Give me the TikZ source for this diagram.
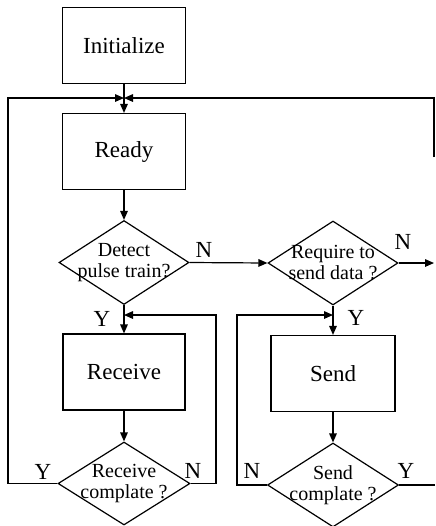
\documentclass[tikz,border=0pt]{standalone}
\usepackage{fontspec}
\setmainfont{Liberation Serif}
\usetikzlibrary{shapes.geometric, arrows.meta}

\begin{document}
\begin{tikzpicture}[x = 0.5pt, y = -0.5pt, line width = 0.6pt,
		box/.style = {draw, rectangle, minimum width = 61.5pt, minimum height = 38pt, font = \fontsize{11.5}{13}\selectfont},
		test/.style = {draw, diamond, minimum width = 65pt, minimum height = 42pt, inner sep = 0pt},
		ask/.style = {align = center, inner sep = 0pt, font = \fontsize{10}{10.5}\selectfont},
		yn/.style = {inner sep = 0pt, font = \fontsize{11.5}{13}\selectfont},
		arr/.style = {-{Triangle[length = 4.5pt, width = 3.8pt]}}]
		\useasboundingbox (0, 0) rectangle (435, 526);
		%%%%%%%%%%%%%
		\node[box] (init) at (124, 45.5) {Initialize};
		\node[box] (ready) at (124, 151.5) {Ready};
		\node[test, label = {[ask]center:{Detect\\pulse train?}}] (detect) at (124, 262.5) {};
		\node[test, label = {[ask]center:{Require to\\send data ?}}] (require) at (333, 263) {};
		\node[box, minimum width = 61pt] (receive) at (124, 372) {Receive};
		\node[box, minimum width = 62pt] (send) at (333, 373.5) {Send};
		\node[test, minimum width = 66pt, minimum height = 41.5pt, label = {[ask]center:{Receive\\complate ?}}] (rc) at (124, 483.5) {};
		\node[test, minimum width = 65.5pt, label = {[ask]center:{Send\\complate ?}}] (sc) at (333, 485) {};
		%%%%%%%%%%%%%
		\node[yn] (n1) at (204, 250) {N};
		\node[yn] (n2) at (403, 242) {N};
		\node[yn] (y1) at (102, 319) {Y};
		\node[yn] (y2) at (356, 318) {Y};
		\node[yn] (y3) at (43, 472) {Y};
		\node[yn] (n3) at (193, 471) {N};
		\node[yn] (n4) at (252, 471) {N};
		\node[yn] (y4) at (406, 471) {Y};
		%%%%%%%%%%%%%
		\coordinate (join) at (124, 98);
		\coordinate (lft) at (8, 98);
		\coordinate (rgt) at (434, 98);
		\coordinate (rgtend) at (434, 157);
		\coordinate (rout) at (434, 263);
		\coordinate (sout) at (435, 485);
		\coordinate (rloop) at (216, 315);
		\coordinate (sloop) at (237, 315);
		%%%%%%%%%%%%%
		\draw [arr] (init) to (ready);
		\draw [arr] (rc.west) -| (lft) -- (join);
		\draw [arr] (rgtend) -- (rgt) -- (join);
		\draw [arr] (ready) to (detect);
		\draw [arr] (detect.east) to (require.west);
		\draw [arr] (require.east) to (rout);
		\draw [arr] (detect.south) to (receive);
		\draw [arr] (receive) to (rc);
		\draw [arr] (rc.east) -| (rloop) -- (rloop -| detect.south);
		\draw [arr] (require.south) to (send);
		\draw [arr] (send) to (sc);
		\draw [arr] (sc.west) -| (sloop) -- (sloop -| require.south);
		\draw (sc.east) to (sout);
\end{tikzpicture}
\end{document}
